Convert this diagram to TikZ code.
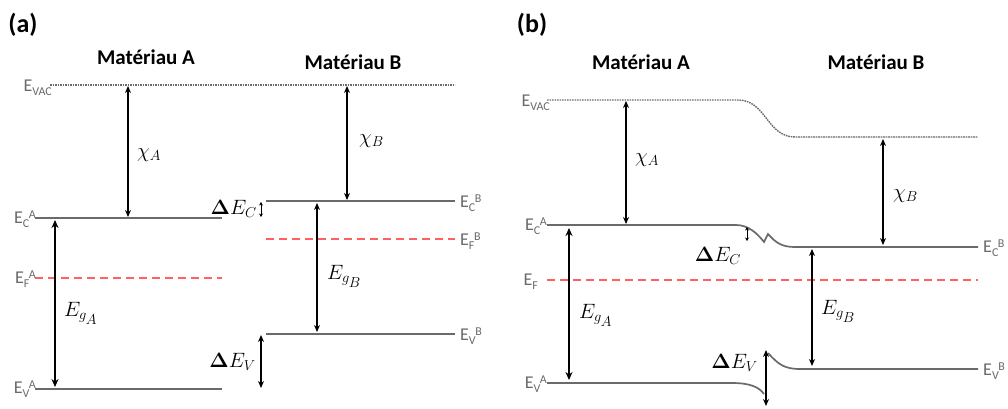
\documentclass[tikz,border=0pt]{standalone}
\usepackage[no-math]{fontspec}
\setsansfont{Carlito}
\usetikzlibrary{arrows.meta}
\definecolor{lvl}{HTML}{6A6A6A}
\definecolor{lbl}{HTML}{6A6A6A}
\definecolor{fermi}{HTML}{FF6060}
\newcommand{\elab}[2]{E\raisebox{-0.45ex}{\fontsize{12}{12}\selectfont #1}\hspace{-0.5pt}\raisebox{0.6ex}{\fontsize{12}{12}\selectfont #2}}
\newcommand{\evac}{E\raisebox{-0.45ex}{\fontsize{12}{12}\selectfont VAC}}
\newcommand{\gsub}[1]{E_{g_{\scriptstyle #1}}}
\begin{document}
\begin{tikzpicture}[x=1pt,y=-1pt,
  level/.style={draw=lvl,line width=2pt},
  vac/.style={draw=lvl,line width=1.4pt,dash pattern=on 1.6pt off 0.9pt},
  fermiline/.style={draw=fermi,line width=1.6pt,dash pattern=on 8pt off 5pt},
  arr/.style={draw=black,line width=1.3pt,{Stealth[length=7pt,width=6pt]}-{Stealth[length=7pt,width=6pt]}},
  garr/.style={draw=black,line width=2pt,{Stealth[length=8pt,width=7pt]}-{Stealth[length=8pt,width=7pt]}},
  sarr/.style={draw=black,line width=0.9pt,{Stealth[length=3.5pt,width=4pt]}-{Stealth[length=3.5pt,width=4pt]}},
  elbl/.style={font=\sffamily\fontsize{18}{18}\selectfont,text=lbl,inner sep=0pt},
  mlbl/.style={font=\fontsize{21}{21}\selectfont,inner sep=0pt},
  title/.style={font=\sffamily\bfseries\fontsize{21}{21}\selectfont,inner sep=0pt},
  panel/.style={font=\sffamily\bfseries\fontsize{26}{26}\selectfont,inner sep=0pt}]
\useasboundingbox (0,0) rectangle (1008,408);
\fill[white] (0,0) rectangle (1008,408);

% ---------------- panel (a) ----------------
\node[panel] (pa) at (23,25) {(a)};
\node[title] (tAa) at (146,57) {Matériau A};
\node[title] (tBa) at (353,62) {Matériau B};

\coordinate (vacL) at (50,85);
\coordinate (vacR) at (455,85);
\path[vac] (vacL) -- (vacR);
\node[elbl,anchor=east] (lvac) at (52,88) {\evac};

\coordinate (ecaL) at (35,218);
\coordinate (ecaR) at (222,218);
\path[level] (ecaL) -- (ecaR);
\node[elbl,anchor=east] (lec) at (36,219) {\elab{C}{A}};

\coordinate (efaL) at (35,278);
\coordinate (efaR) at (222,278);
\path[fermiline] (efaL) -- (efaR);
\node[elbl,anchor=east] (lef) at (36,279) {\elab{F}{A}};

\coordinate (evaL) at (35,389);
\coordinate (evaR) at (222,389);
\path[level] (evaL) -- (evaR);
\node[elbl,anchor=east] (lev) at (36,389) {\elab{V}{A}};

\coordinate (ecbL) at (266,201);
\coordinate (ecbR) at (455,201);
\path[level] (ecbL) -- (ecbR);
\node[elbl,anchor=west] (lecb) at (460,203) {\elab{C}{B}};

\coordinate (efbL) at (266,239);
\coordinate (efbR) at (455,239);
\path[fermiline] (efbL) -- (efbR);
\node[elbl,anchor=west] (lefb) at (460,241) {\elab{F}{B}};

\coordinate (evbL) at (266,334);
\coordinate (evbR) at (455,334);
\path[level] (evbL) -- (evbR);
\node[elbl,anchor=west] (levb) at (460,336) {\elab{V}{B}};

% arrows (a)
\coordinate (xa1) at (128,86);  \coordinate (xa2) at (128,217);
\draw[arr] (xa1) -- (xa2);
\node[mlbl,anchor=west] (chiA) at (137,155) {$\chi_A$};
\coordinate (xb1) at (347,86);  \coordinate (xb2) at (347,200);
\draw[arr] (xb1) -- (xb2);
\node[mlbl,anchor=west] (chiB) at (359,141) {$\chi_B$};
\coordinate (ga1) at (55,220);  \coordinate (ga2) at (55,387);
\draw[garr] (ga1) -- (ga2);
\node[mlbl,anchor=west] (egA) at (64,313) {$\gsub{A}$};
\coordinate (gb1) at (317,203);  \coordinate (gb2) at (317,332);
\draw[arr] (gb1) -- (gb2);
\node[mlbl,anchor=west] (egB) at (327,276) {$\gsub{B}$};
\coordinate (dc1) at (261,202);  \coordinate (dc2) at (261,217);
\draw[sarr] (dc1) -- (dc2);
\node[mlbl,anchor=east] (dEC) at (257,209) {$\mathbf{\Delta}E_C$};
\coordinate (dv1) at (261,335);  \coordinate (dv2) at (261,388);
\draw[arr] (dv1) -- (dv2);
\node[mlbl,anchor=east] (dEV) at (256,362) {$\mathbf{\Delta}E_V$};

% ---------------- panel (b) ----------------
\node[panel] (pb) at (532,25) {(b)};
\node[title] (tAb) at (641,62) {Matériau A};
\node[title] (tBb) at (876,62) {Matériau B};

\coordinate (v1) at (547,100);
\coordinate (v2) at (738,100);
\coordinate (v3) at (795,137);
\coordinate (v4) at (978,137);
\path[vac] (v1) -- (v2) .. controls (766,100) and (767,137) .. (v3) -- (v4);
\node[elbl,anchor=east] (lvacb) at (550,103) {\evac};

\coordinate (c1) at (547,225);
\coordinate (c2) at (736,225);
\coordinate (c3) at (764,242);
\coordinate (c4) at (768,234);
\coordinate (c5) at (795,247);
\coordinate (c6) at (978,247);
\path[level,line width=1.7pt,line join=miter] (c1) -- (c2) .. controls (748,225) and (757,233) .. (c3) -- (c4) .. controls (776,243) and (782,247) .. (c5) -- (c6);
\node[elbl,anchor=east] (lecA) at (547,226) {\elab{C}{A}};
\node[elbl,anchor=west] (lecB) at (983,248) {\elab{C}{B}};

\coordinate (f1) at (547,280);
\coordinate (f2) at (978,280);
\path[fermiline] (f1) -- (f2);
\node[elbl,anchor=east] (lefA) at (538,282) {E\raisebox{-0.45ex}{\fontsize{12}{12}\selectfont F}};

\coordinate (w1) at (547,383);
\coordinate (w2) at (732,383);
\coordinate (w3) at (764,394);
\path[level,line width=1.7pt] (w1) -- (w2) .. controls (750,383) and (759,387) .. (w3);
\coordinate (w4) at (768,353);
\coordinate (w5) at (800,369);
\coordinate (w6) at (978,369);
\path[level,line width=1.7pt] (w4) .. controls (778,364) and (784,369) .. (w5) -- (w6);
\node[elbl,anchor=east] (levA) at (547,384) {\elab{V}{A}};
\node[elbl,anchor=west] (levB) at (983,371) {\elab{V}{B}};

% arrows (b)
\coordinate (yA1) at (626,101);  \coordinate (yA2) at (626,224);
\draw[arr,line width=1.1pt] (yA1) -- (yA2);
\node[mlbl,anchor=west] (chiAb) at (635,160) {$\chi_A$};
\coordinate (yB1) at (883,139);  \coordinate (yB2) at (883,245);
\draw[arr,line width=1.1pt] (yB1) -- (yB2);
\node[mlbl,anchor=west] (chiBb) at (893,196) {$\chi_B$};
\coordinate (hA1) at (569,228);  \coordinate (hA2) at (569,380);
\draw[garr,line width=1.6pt] (hA1) -- (hA2);
\node[mlbl,anchor=west] (egAb) at (579,315) {$\gsub{A}$};
\coordinate (hB1) at (812,249);  \coordinate (hB2) at (812,366);
\draw[arr,line width=1.1pt] (hB1) -- (hB2);
\node[mlbl,anchor=west] (egBb) at (821,311) {$\gsub{B}$};
\coordinate (dcb1) at (747,227);  \coordinate (dcb2) at (747,241);
\draw[sarr] (dcb1) -- (dcb2);
\node[mlbl] (dECb) at (718,256) {$\mathbf{\Delta}E_C$};
\coordinate (dvb1) at (766,350);  \coordinate (dvb2) at (766,406);
\draw[arr,line width=1.1pt] (dvb1) -- (dvb2);
\node[mlbl,anchor=east] (dEVb) at (758,363) {$\mathbf{\Delta}E_V$};
\end{tikzpicture}
\end{document}
